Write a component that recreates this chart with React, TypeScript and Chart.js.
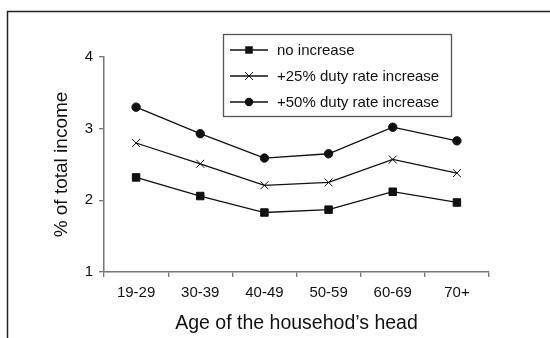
import React, { useEffect, useRef } from "react";
import { Chart, registerables } from "chart.js";

Chart.register(...registerables);

const ageGroups = ["19-29", "30-39", "40-49", "50-59", "60-69", "70+"];
const noIncrease = [2.32, 2.06, 1.83, 1.87, 2.12, 1.97];
const plus25 = [2.8, 2.51, 2.21, 2.25, 2.57, 2.38];
const plus50 = [3.3, 2.93, 2.59, 2.65, 3.02, 2.83];
const seriesNames = ["no increase", "+25% duty rate increase", "+50% duty rate increase"];
const yTicks = [1, 2, 3, 4];

const FONT = "'Liberation Sans', Arial, Helvetica, sans-serif";
const INK = "#111";
const AXIS = "#777";

type Marker = "rect" | "crossRot" | "circle";
const markers: Marker[] = ["rect", "crossRot", "circle"];
const markerRadius: Record<Marker, number> = { rect: 5.3, crossRot: 5.6, circle: 4.2 };

function drawMarker(ctx: CanvasRenderingContext2D, m: Marker, x: number, y: number) {
  const r = markerRadius[m];
  ctx.beginPath();
  if (m === "rect") {
    const h = r * Math.SQRT1_2;
    ctx.rect(x - h, y - h, 2 * h, 2 * h);
    ctx.fill();
  } else if (m === "circle") {
    ctx.arc(x, y, r, 0, Math.PI * 2);
    ctx.fill();
  } else {
    const h = r * Math.SQRT1_2;
    ctx.moveTo(x - h, y - h);
    ctx.lineTo(x + h, y + h);
    ctx.moveTo(x - h, y + h);
    ctx.lineTo(x + h, y - h);
    ctx.stroke();
  }
}

// Outer frame plus boxed legend with line-and-marker samples
const decorPlugin = {
  id: "decor",
  afterDraw(chart: Chart) {
    const ctx = chart.ctx;
    ctx.save();
    ctx.strokeStyle = "#222";
    ctx.lineWidth = 1.5;
    ctx.beginPath();
    ctx.moveTo(7.5, 400);
    ctx.lineTo(7.5, 11.5);
    ctx.lineTo(600, 11.5);
    ctx.stroke();

    ctx.fillStyle = "#fff";
    ctx.fillRect(223, 34, 229, 83);
    ctx.strokeStyle = "#555";
    ctx.lineWidth = 1.3;
    ctx.strokeRect(223.5, 34.5, 228, 82);

    const rows = [50, 76, 102];
    ctx.font = `15px ${FONT}`;
    ctx.textBaseline = "middle";
    rows.forEach((y, i) => {
      ctx.strokeStyle = INK;
      ctx.lineWidth = 1.3;
      ctx.beginPath();
      ctx.moveTo(230, y);
      ctx.lineTo(268, y);
      ctx.stroke();
      ctx.fillStyle = INK;
      ctx.lineWidth = 1;
      drawMarker(ctx, markers[i], 249, y);
      ctx.fillText(seriesNames[i], 277, y + 1);
    });
    ctx.restore();
  },
};

export default function App() {
  const canvasRef = useRef<HTMLCanvasElement | null>(null);

  useEffect(() => {
    const canvas = canvasRef.current;
    if (!canvas) return;

    const mk = (label: string, data: number[], m: Marker) => ({
      label,
      data,
      borderColor: INK,
      backgroundColor: INK,
      borderWidth: 1.3,
      pointStyle: m,
      pointRadius: markerRadius[m],
      pointBorderWidth: 1,
      pointBorderColor: INK,
      pointBackgroundColor: INK,
      tension: 0,
    });

    const chart = new Chart(canvas, {
      type: "line",
      data: {
        labels: ageGroups,
        datasets: [
          mk(seriesNames[0], noIncrease, "rect"),
          mk(seriesNames[1], plus25, "crossRot"),
          mk(seriesNames[2], plus50, "circle"),
        ],
      },
      options: {
        animation: false,
        responsive: false,
        devicePixelRatio: 1,
        layout: { padding: { top: 57, right: 61, bottom: 0, left: 0 } },
        plugins: { legend: { display: false }, tooltip: { enabled: false } },
        scales: {
          x: {
            offset: true,
            grid: { offset: true, drawOnChartArea: false, drawTicks: true, tickLength: 5, color: AXIS, lineWidth: 1.3 },
            border: { display: true, color: AXIS, width: 1.5 },
            ticks: { color: INK, font: { family: FONT, size: 15 }, padding: 7, maxRotation: 0 },
            title: {
              display: true,
              text: "Age of the househod\u2019s head",
              color: INK,
              font: { family: FONT, size: 19.5 },
              padding: { top: 0, bottom: 3 },
            },
            afterFit(scale: any) {
              scale.height = 66;
            },
          },
          y: {
            min: 1,
            max: 4,
            afterBuildTicks(scale: any) {
              scale.ticks = yTicks.map((v) => ({ value: v }));
            },
            grid: { drawOnChartArea: false, drawTicks: true, tickLength: 5, color: AXIS, lineWidth: 1.3 },
            border: { display: true, color: AXIS, width: 1.5 },
            ticks: { color: INK, font: { family: FONT, size: 15 }, padding: 6 },
            title: {
              display: true,
              text: "% of total income",
              color: INK,
              font: { family: FONT, size: 19 },
              padding: { top: 50, bottom: 0 },
            },
            afterFit(scale: any) {
              scale.width = 104;
            },
          },
        },
      },
      plugins: [decorPlugin],
    });

    return () => chart.destroy();
  }, []);

  return (
    <div style={{ position: "fixed", left: 0, top: 0, width: 550, height: 338, background: "#fff" }}>
      <canvas ref={canvasRef} width={550} height={338} />
    </div>
  );
}
